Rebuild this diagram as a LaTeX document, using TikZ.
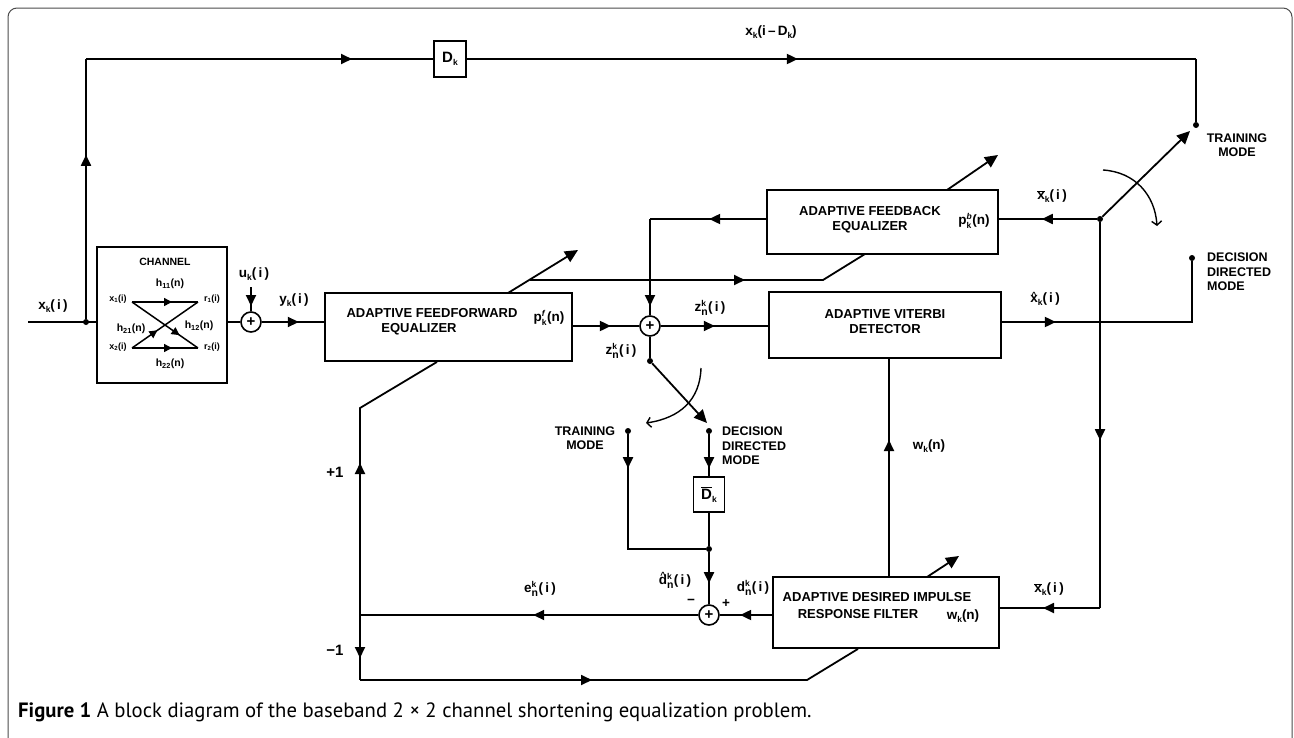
\documentclass[tikz,border=0pt]{standalone}
\usepackage{fontspec}
\setmainfont{Liberation Sans}
\newfontfamily\capfont{PT Sans}
\usetikzlibrary{arrows.meta,decorations.markings}
\newcommand{\xbar}{\ensuremath{\overline{\mbox{x}}}}
\newcommand{\xhat}{\ooalign{x\cr\hidewidth\raisebox{4.2pt}{\fontsize{9}{9}\selectfont\textasciicircum}\hidewidth\cr}}
\newcommand{\dhat}{\ooalign{d\cr\hidewidth\raisebox{6.8pt}{\fontsize{9}{9}\selectfont\textasciicircum}\hidewidth\cr}}
\newcommand{\Dbar}{\ensuremath{\overline{\mbox{D}}}}
\newcommand{\sbp}[2]{\ensuremath{{}^{\mbox{\fontsize{8.5}{9}\selectfont #1}}_{\mbox{\fontsize{10.5}{11}\selectfont #2}}}}
\newcommand{\sbk}[1]{\raisebox{-3pt}{\fontsize{8.5}{9}\selectfont #1}}
\tikzset{
 ln/.style={line width=1.8pt},
 >={Triangle[length=11pt,width=10pt]},
 ar/.style={postaction={decorate,decoration={markings,mark=at position #1 with {\arrow{>}}}}},
 box/.style={draw,line width=1.8pt,inner sep=0pt},
 sumn/.style={draw,circle,line width=1.6pt,minimum size=20pt,inner sep=0pt,font=\bfseries\fontsize{15}{15}\selectfont},
 dot/.style={circle,fill,inner sep=0pt,minimum size=6pt},
 txt/.style={font=\bfseries\fontsize{13}{15}\selectfont,align=center,inner sep=0pt},
 lbl/.style={font=\bfseries\fontsize{13.5}{15}\selectfont,inner sep=0pt},
 mode/.style={font=\bfseries\fontsize{12.5}{14.5}\selectfont,inner sep=0pt},
 sml/.style={font=\bfseries\fontsize{9}{10}\selectfont,inner sep=0pt},
 hlab/.style={font=\bfseries\fontsize{10.5}{12}\selectfont,inner sep=0pt},
 adapt/.style={ln,-{Triangle[length=13pt,width=12pt]}},
 barb/.style={line width=1.4pt,-{Straight Barb[length=4pt,width=10pt]}},
 chl/.style={line width=1.5pt},
 charr/.style={postaction={decorate,decoration={markings,mark=at position #1 with {\arrow{Triangle[length=8pt,width=8pt]}}}}},
}
\begin{document}
\begin{tikzpicture}[x=1pt,y=-1pt]
\useasboundingbox (0,0) rectangle (1294,737);
\clip (0,0) rectangle (1294,737);
\fill[white] (0,0) rectangle (1294,737);
\draw[line width=1pt,draw=black!70,rounded corners=9pt] (8,8) rectangle (1292,790);

% channel
\node[box,minimum width=130pt,minimum height=136pt] (ch) at (162,315) {};
\node[hlab] (chlab) at (165,262) {CHANNEL};
\coordinate (cx1) at (132,302); \coordinate (cr1) at (198,302);
\coordinate (cx2) at (132,348); \coordinate (cr2) at (198,348);
\draw[chl,charr=40pt] (cx1) -- (cr1);
\draw[chl,charr=40pt] (cx2) -- (cr2);
\draw[chl,charr=58pt] (cx1) -- (cr2);
\draw[chl,charr=31pt] (cx2) -- (cr1);
\node[sml] (lx1) at (118,299) {x\textsubscript{1}(i)};
\node[sml] (lr1) at (212,299) {r\textsubscript{1}(i)};
\node[sml] (lx2) at (118,347) {x\textsubscript{2}(i)};
\node[sml] (lr2) at (212,347) {r\textsubscript{2}(i)};
\node[hlab] (lh11) at (170,284) {h\textsubscript{11}(n)};
\node[hlab] (lh21) at (131,329) {h\textsubscript{21}(n)};
\node[hlab] (lh12) at (199,326) {h\textsubscript{12}(n)};
\node[hlab] (lh22) at (170,364) {h\textsubscript{22}(n)};

% input and first summer
\coordinate (in) at (28,322);
\node[dot] (j1) at (86,322) {};
\node[sumn] (s1) at (251,322) {+};
\draw[ln] (in) -- (ch.west |- in);
\draw[ln] (ch.east |- s1) -- (s1.west);
\node[lbl] (lxk) at (53,306) {x\sbk{k}(\,i\,)};
\coordinate (uin) at (251,287);
\draw[ln,ar=19pt] (uin) -- (s1.north);
\node[lbl] (lu) at (254,274) {u\sbk{k}(\,i\,)};

% feedforward equalizer
\node[box,minimum width=247pt,minimum height=68pt] (ff) at (448.5,327) {};
\node[txt] (fft) at (432,322) {ADAPTIVE FEEDFORWARD\\EQUALIZER\hspace*{26pt}};
\node[lbl] (lpf) at (549,318) {p\sbp{\itshape f}{\fontsize{8.5}{9}\selectfont k}(n)};
\draw[ln,ar=37pt] (s1.east) -- (ff.west |- s1);
\node[lbl] (ly) at (294,300) {y\sbk{k}(\,i\,)};

% top delay path
\coordinate (c1) at (86,59);
\node[box,minimum width=32pt,minimum height=36pt,font=\bfseries\fontsize{15}{15}\selectfont] (dk) at (450,59) {D\sbk{k}};
\draw[ln,ar=164pt] (j1) -- (c1);
\draw[ln,ar=266pt] (c1) -- (dk.west);
\coordinate (c2) at (1196,59);
\node[dot] (tp) at (1196,125) {};
\draw[ln,ar=331pt] (dk.east) -- (c2);
\draw[ln] (c2) -- (tp);
\node[lbl] (lxd) at (771,32) {x\sbk{k}(i\,\textendash\,D\sbk{k})};
\node[mode,align=center] (ltm) at (1237,145) {TRAINING\\MODE};

% top right switch
\node[dot] (jr) at (1100,219) {};
\coordinate (swt) at (1190,131);
\draw[adapt] (jr) -- (swt);
\coordinate (cv1) at (1103,170); \coordinate (cv2) at (1157,226);
\draw[barb] (cv1) .. controls (1135,172) and (1155,195) .. (cv2);

% feedback equalizer
\node[box,minimum width=231pt,minimum height=64pt] (fb) at (882.5,222) {};
\node[txt] (fbt) at (870,220) {ADAPTIVE FEEDBACK\\EQUALIZER};
\node[lbl] (lpb) at (974,221) {p\sbp{\itshape b}{\fontsize{8.5}{9}\selectfont k}(n)};
\draw[ln,ar=55pt] (jr) -- (fb.east |- jr);
\node[lbl] (lxb1) at (1052,196) {\xbar\sbk{k}(\,i\,)};
\coordinate (c3) at (650,219);
\node[sumn] (s2) at (650,326) {+};
\draw[ln,ar=57pt] (fb.west |- jr) -- (c3);
\draw[ln,ar=87pt] (c3) -- (s2.north);
\coordinate (fba0) at (947,190); \coordinate (fba1) at (998,155);
\draw[adapt] (fba0) -- (fba1);
\coordinate (ffa0) at (508,293); \coordinate (ffa1) at (578,250);
\draw[adapt] (ffa0) -- (ffa1);
\coordinate (fbi0) at (530,280); \coordinate (fbi1) at (823,280); \coordinate (fbi2) at (865,254);
\draw[ln,ar=215pt] (fbi0) -- (fbi1) -- (fbi2);

% viterbi
\draw[ln,ar=38pt] (ff.east |- s2) -- (s2.west);
\node[box,minimum width=232pt,minimum height=66pt] (vit) at (885,325) {};
\node[txt] (vitt) at (885,322) {ADAPTIVE VITERBI\\DETECTOR};
\draw[ln,ar=54pt] (s2.east) -- (vit.west |- s2);
\node[lbl] (lz1) at (710,308) {z\sbp{k}{n}(\,i\,)};
\coordinate (c4) at (1192,322);
\node[dot] (dd) at (1192,258) {};
\draw[ln,ar=54pt] (vit.east |- c4) -- (c4) -- (dd);
\node[lbl] (lxh) at (1045,299) {\xhat\sbk{k}(\,i\,)};
\node[mode,align=left,anchor=west] (ldd) at (1207,272) {DECISION\\DIRECTED\\MODE};

% desired impulse response filter
\coordinate (c5) at (1100,608);
\node[box,minimum width=226pt,minimum height=71pt] (dif) at (886,612.5) {};
\node[txt] (dift) at (877,597) {ADAPTIVE DESIRED IMPULSE};
\node[txt] (dift2) at (858,614) {RESPONSE FILTER};
\node[lbl] (lwk2) at (963,616) {w\sbk{k}(n)};
\draw[ln,ar=218pt] (jr) -- (c5);
\draw[ln,ar=57pt] (c5) -- (dif.east |- c5);
\node[lbl] (lxb2) at (1049,589) {\xbar\sbk{k}(\,i\,)};
\coordinate (c6) at (889,577);
\draw[ln,ar=137pt] (c6) -- (c6 |- vit.south);
\node[lbl] (lw) at (929,446) {w\sbk{k}(n)};
\coordinate (dfa0) at (927,577); \coordinate (dfa1) at (959,556);
\draw[adapt] (dfa0) -- (dfa1);

% lower switch
\node[dot] (z) at (650,361) {};
\draw[ln] (s2.south) -- (z);
\node[lbl] (lz2) at (621,351) {z\sbp{k}{n}(\,i\,)};
\coordinate (sw2) at (707,423);
\draw[adapt] (z) -- (sw2);
\coordinate (cv3) at (701,368); \coordinate (cv4) at (646,423);
\draw[barb] (cv3) .. controls (700,400) and (680,418) .. (cv4);
\node[dot] (tm2) at (628,431) {};
\node[dot] (dd2) at (709,431) {};
\node[mode,align=center] (ltm2) at (585,438) {TRAINING\\MODE};
\node[mode,align=left,anchor=west] (ldd2) at (722,446) {DECISION\\DIRECTED\\MODE};
\node[box,minimum width=31pt,minimum height=35pt,font=\bfseries\fontsize{15}{15}\selectfont] (db) at (709,494.5) {\Dbar\sbk{k}};
\draw[ln,ar=34pt] (dd2) -- (db.north);
\node[dot] (j3) at (709,549) {};
\coordinate (c8) at (628,549);
\draw[ln,ar=34pt] (tm2) -- (c8) -- (j3);
\draw[ln] (db.south) -- (j3);
\node[sumn] (s3) at (709,615) {+};
\draw[ln,ar=31pt] (j3) -- (s3.north);
\node[lbl] (ldh) at (675,581) {\dhat\sbp{k}{n}(\,i\,)};
\draw[ln,ar=32pt] (dif.west |- s3) -- (s3.east);
\node[lbl] (ld) at (753,588) {d\sbp{k}{n}(\,i\,)};
\node[lbl] (lminus) at (691,602) {\textminus};
\node[lbl] (lplus) at (726,604) {+};

% error feedback
\coordinate (c9) at (360,615);
\draw[ln,ar=165pt] (s3.west) -- (c9);
\node[lbl] (le) at (540,589) {e\sbp{k}{n}(\,i\,)};
\coordinate (c10) at (360,408);
\draw[ln,ar=152pt] (c9) -- (c10) -- (ff.south -| 437,0);
\node[lbl,font=\bfseries\fontsize{15}{15}\selectfont] (lp1) at (335,472) {+1};
\node[lbl,font=\bfseries\fontsize{15}{15}\selectfont] (lm1) at (335,650) {\textminus1};
\coordinate (c11) at (360,680); \coordinate (c12) at (807,680);
\draw[ln,ar=43pt] (c9) -- (c11);
\draw[ln,ar=232pt] (c11) -- (c12) -- (dif.south -| 858,0);

% caption
\node[anchor=west,inner sep=0pt,font=\capfont\fontsize{20.7}{23}\selectfont] (cap) at (18,712) {\textbf{Figure 1} A block diagram of the baseband 2 × 2 channel shortening equalization problem.};
\end{tikzpicture}
\end{document}
